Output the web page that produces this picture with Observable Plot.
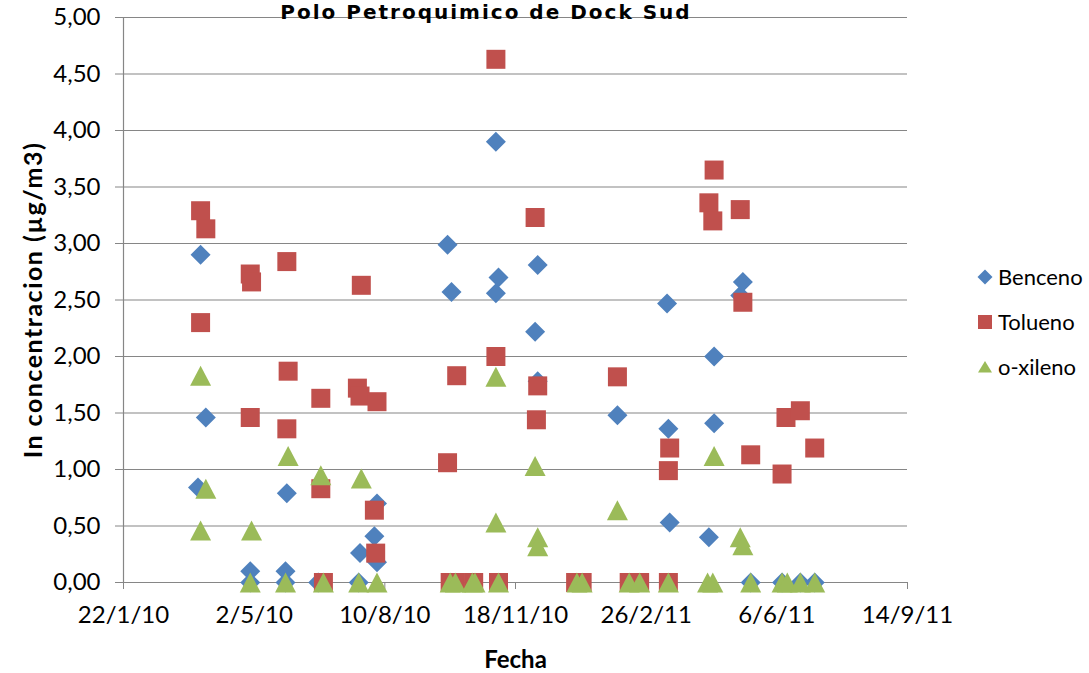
<!DOCTYPE html>
<html><head><meta charset="utf-8">
<script src="https://cdn.jsdelivr.net/npm/d3@7"></script>
<script src="https://cdn.jsdelivr.net/npm/@observablehq/plot@0.6"></script>
<style>
html,body{margin:0;padding:0;background:#fff;overflow:hidden}
#wrap{position:relative;width:1089px;height:673px;overflow:hidden;font-family:Lato,sans-serif}
#title{position:absolute;left:186px;width:600px;top:0px;text-align:center;font-family:"DejaVu Sans",sans-serif;font-weight:bold;font-size:20px;line-height:normal;letter-spacing:2px;color:#000;white-space:nowrap}
#legend{position:absolute;left:975px;top:254px;font-size:22px;color:#000}
#legend .row{display:flex;align-items:center;height:45px}
#legend svg{width:20px;height:20px;margin-right:3px}
</style></head><body><div id="wrap"><div id="title">Polo Petroquimico de Dock Sud</div></div>
<script>
// ---- data ----
const seriesNames = ["Benceno", "Tolueno", "o-xileno"];
const seriesColors = ["#4F81BD", "#C0504D", "#9BBB59"];
const xTicks = ["2010-01-22","2010-05-02","2010-08-10","2010-11-18","2011-02-26","2011-06-06","2011-09-14"];
const yTicks = [0, 0.5, 1, 1.5, 2, 2.5, 3, 3.5, 4, 4.5, 5];

const benceno = [
  ["2010-03-20",0.84],["2010-03-22",2.90],["2010-03-26",1.46],
  ["2010-04-29",0.10],["2010-04-29",0.00],
  ["2010-05-26",0.10],["2010-05-26",0.00],["2010-05-27",0.79],
  ["2010-06-20",0.00],
  ["2010-07-21",0.00],["2010-07-22",0.26],["2010-08-02",0.41],["2010-08-04",0.70],["2010-08-04",0.18],
  ["2010-09-27",2.99],["2010-09-30",2.57],
  ["2010-11-03",3.90],["2010-11-03",2.56],["2010-11-05",2.70],
  ["2010-12-03",2.22],["2010-12-05",2.81],["2010-12-05",1.78],
  ["2011-02-04",1.48],
  ["2011-03-14",2.47],["2011-03-15",1.36],["2011-03-16",0.53],
  ["2011-04-15",0.40],["2011-04-19",2.00],["2011-04-19",1.41],
  ["2011-05-09",2.54],["2011-05-11",2.66],["2011-05-17",0.00],
  ["2011-06-10",0.00],["2011-06-24",0.00],["2011-07-05",0.00]
];
const tolueno = [
  ["2010-03-22",3.29],["2010-03-22",2.30],["2010-03-26",3.13],
  ["2010-04-29",2.73],["2010-04-29",1.46],["2010-04-30",2.66],
  ["2010-05-27",2.84],["2010-05-27",1.36],["2010-05-28",1.87],
  ["2010-06-22",1.63],["2010-06-22",0.83],["2010-06-24",0.00],
  ["2010-07-20",1.72],["2010-07-22",1.65],["2010-07-23",2.63],
  ["2010-08-02",0.64],["2010-08-03",0.26],["2010-08-04",1.60],
  ["2010-09-27",1.06],["2010-09-29",0.00],["2010-10-03",0.00],["2010-10-04",1.83],["2010-10-17",0.00],
  ["2010-11-03",4.63],["2010-11-03",2.00],["2010-11-05",0.00],
  ["2010-12-03",3.23],["2010-12-04",1.44],["2010-12-05",1.74],
  ["2011-01-03",0.00],["2011-01-08",0.00],
  ["2011-02-04",1.82],["2011-02-13",0.00],["2011-02-21",0.00],
  ["2011-03-15",0.99],["2011-03-15",0.00],["2011-03-16",1.19],
  ["2011-04-15",3.36],["2011-04-18",3.20],["2011-04-19",3.65],
  ["2011-05-09",3.30],["2011-05-11",2.48],["2011-05-17",1.13],
  ["2011-06-10",0.96],["2011-06-13",1.46],["2011-06-24",1.52],["2011-07-05",1.19]
];
const oxileno = [
  ["2010-03-22",1.83],["2010-03-22",0.46],["2010-03-26",0.83],
  ["2010-04-29",0.00],["2010-04-30",0.46],
  ["2010-05-26",0.00],["2010-05-28",1.12],
  ["2010-06-22",0.95],["2010-06-24",0.00],
  ["2010-07-21",0.00],["2010-07-23",0.92],["2010-08-04",0.00],
  ["2010-09-29",0.00],["2010-10-03",0.00],["2010-10-16",0.00],["2010-10-18",0.00],
  ["2010-11-03",1.82],["2010-11-03",0.53],["2010-11-05",0.00],
  ["2010-12-03",1.03],["2010-12-05",0.40],["2010-12-05",0.32],
  ["2011-01-04",0.00],["2011-01-08",0.00],
  ["2011-02-04",0.64],["2011-02-13",0.00],["2011-02-21",0.00],
  ["2011-03-15",0.00],
  ["2011-04-14",0.00],["2011-04-18",0.00],["2011-04-19",1.12],
  ["2011-05-09",0.40],["2011-05-11",0.33],["2011-05-17",0.00],
  ["2011-06-10",0.00],["2011-06-14",0.00],["2011-06-24",0.00],["2011-07-05",0.00]
];

// ---- symbols (Excel-like markers, centered on their box) ----
const diamondSym = {draw(c, size){const s = Math.sqrt(size)/2; c.moveTo(0,-s); c.lineTo(s,0); c.lineTo(0,s); c.lineTo(-s,0); c.closePath();}};
const squareSym = {draw(c, size){const s = Math.sqrt(size)/2; c.rect(-s,-s,2*s,2*s);}};
const triangleSym = {draw(c, size){const s = Math.sqrt(size)/2; c.moveTo(0,-s); c.lineTo(s*1.05,s); c.lineTo(-s*1.05,s); c.closePath();}};
const symbols = [diamondSym, squareSym, triangleSym];
const sides = [20, 19, 20];

const parse = d3.utcParse("%Y-%m-%d");
const toRows = arr => arr.map(([d, v]) => ({date: parse(d), value: v}));
const allSeries = [benceno, tolueno, oxileno].map(toRows);

const fmtY = d => d3.format(".2f")(d).replace(".", ",");
const fmtX = d3.utcFormat("%-d/%-m/%y");
const xTickDates = xTicks.map(parse);

const chart = Plot.plot({
  width: 1089, height: 673,
  marginLeft: 123, marginRight: 182, marginTop: 17, marginBottom: 91,
  style: {fontFamily: "Lato, sans-serif", background: "transparent", overflow: "visible"},
  x: {type: "utc", domain: [xTickDates[0], xTickDates[xTickDates.length - 1]]},
  y: {domain: [0, 5]},
  marks: [
    Plot.gridY(yTicks, {stroke: "#868686", strokeOpacity: 1, strokeWidth: 1.2}),
    Plot.ruleX([xTickDates[0]], {stroke: "#868686", strokeWidth: 1.2}),
    Plot.ruleY([0], {stroke: "#868686", strokeWidth: 1.2}),
    Plot.axisY(yTicks, {tickFormat: fmtY, tickSize: 8, tickPadding: 15, fontSize: 24, stroke: "#868686", fill: "#000", label: null}),
    Plot.axisX(xTickDates, {tickFormat: fmtX, tickSize: 7, tickPadding: 16, fontSize: 24, stroke: "#868686", fill: "#000", label: null}),
    ...allSeries.map((rows, i) => Plot.dot(rows, {x: "date", y: "value", symbol: symbols[i], r: sides[i] / Math.sqrt(Math.PI), fill: seriesColors[i], stroke: "none"})),
    Plot.text(["In concentracion (µg/m3)"], {frameAnchor: "left", rotate: -90, dx: -90, fontSize: 25, fontWeight: "bold", fill: "#000", textAnchor: "middle", lineAnchor: "middle", className: "ylab"}),
    Plot.text(["Fecha"], {frameAnchor: "bottom", dy: 78, fontSize: 24, fontWeight: "bold", fill: "#000", lineAnchor: "middle"})
  ]
});
d3.select(chart).selectAll(".ylab text").attr("letter-spacing", "1.5px");
chart.style.position = "absolute";
chart.style.left = "0px";
chart.style.top = "0px";
const wrap = document.getElementById("wrap");
wrap.insertBefore(chart, wrap.firstChild);

// ---- legend ----
const legend = document.createElement("div");
legend.id = "legend";
const legendShapes = [
  '<polygon points="10,2.5 17.5,10 10,17.5 2.5,10"/>',
  '<rect x="3" y="3" width="14" height="14"/>',
  '<polygon points="10,4 17,15.5 3,15.5"/>'
];
seriesNames.forEach((name, i) => {
  const row = document.createElement("div");
  row.className = "row";
  row.innerHTML = `<svg viewBox="0 0 20 20"><g fill="${seriesColors[i]}">${legendShapes[i]}</g></svg><span>${name}</span>`;
  legend.appendChild(row);
});
wrap.appendChild(legend);
</script>
</body></html>
